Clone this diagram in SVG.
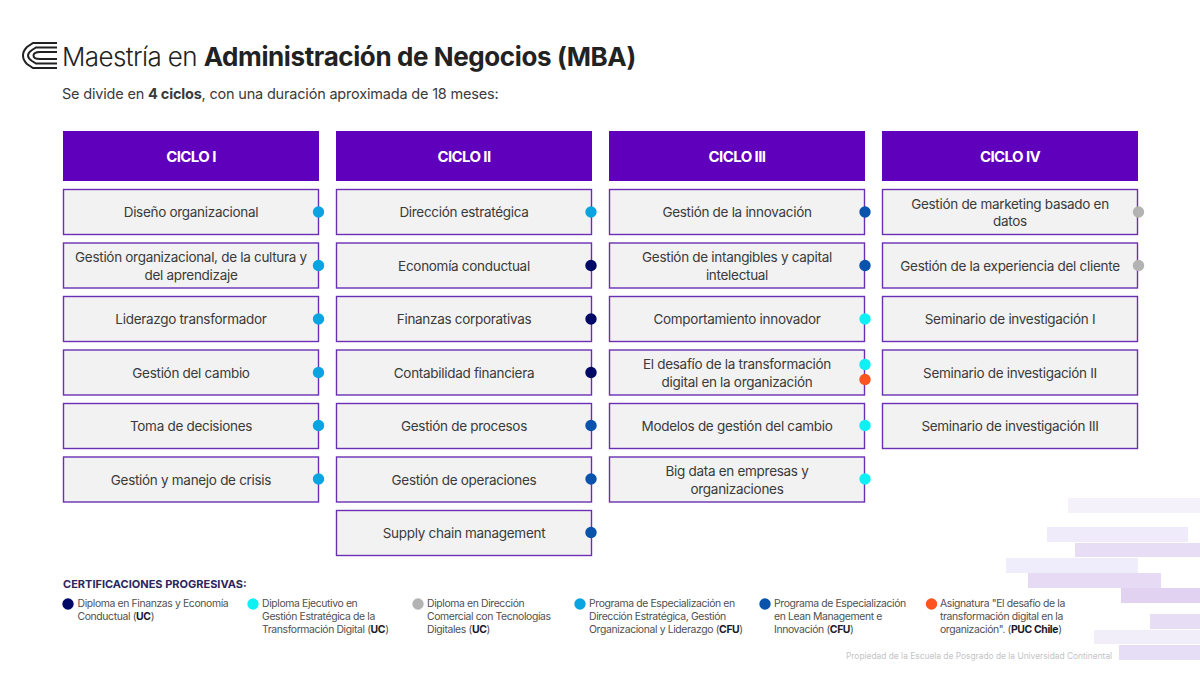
<svg xmlns="http://www.w3.org/2000/svg" width="1200" height="675" viewBox="0 0 1200 675">
<style>
text{font-family:Inter,"Liberation Sans",sans-serif}
.h{fill:#5f00bd}
.hl{fill:#fff;font-size:15px;font-weight:700;text-anchor:middle;letter-spacing:-.6px}
.b{fill:#f2f2f2;stroke:#6a2fb5;stroke-width:1.4}
.t{font-size:13.5px;text-anchor:middle;fill:#3a3a3a;letter-spacing:-.3px}
.lg{font-size:10.4px;fill:#505050;letter-spacing:-.37px}
.s{font-weight:700;fill:#1a1a2a}
.tt{font-size:26px;font-weight:300;fill:#222;letter-spacing:-.6px}
.ttb{font-weight:700;letter-spacing:-.4px}
.sub{font-size:14.5px;fill:#3a3a3a;letter-spacing:-.19px}
.ch{font-size:11px;font-weight:700;fill:#2c2560}
.ft{font-size:8.400px;fill:#c4c4c4}
.d1{fill:#0aa5e0}.d2{fill:#0a53ad}.d3{fill:#000a66}.d4{fill:#0ff0f5}.d5{fill:#b3b3b3}.d6{fill:#fb5420}
</style>
<g id="deco">
<rect x="1068" y="498" width="132" height="15" fill="#f4f1fb"/>
<rect x="1047" y="527" width="141" height="15" fill="#efebfa"/>
<rect x="1075" y="543" width="125" height="14" fill="#e7ddf5"/>
<rect x="1006" y="558" width="132" height="15" fill="#efecfb"/>
<rect x="1028" y="573" width="133" height="15" fill="#e6daf4"/>
<rect x="1121" y="588" width="79" height="15" fill="#e1d2f1"/>
<rect x="1150" y="614" width="50" height="15" fill="#e7ddf5"/>
<rect x="1094" y="630" width="106" height="14" fill="#f1eefa"/>
<rect x="1119" y="645" width="81" height="15" fill="#e6ddf6"/>
</g>
<g id="logo" fill="none" stroke="#222" stroke-width="2">
<path d="M57 43H33L27 47C24 50 23 53 23 55.500C23 58 24 61 27 64L33 68H57"/>
<path d="M57 47.500H36L32 50C29 52 28 54 28 55.500C28 57 29 59 32 61L36 63.500H57"/>
<path d="M57 52H40C36 52 33.500 53.500 33.500 55.500C33.500 57.500 36 59 40 59H57"/>
</g>
<g id="title">
<text class="tt" x="62" y="66">Maestría en <tspan class="ttb">Administración de Negocios (MBA)</tspan></text>
<text class="sub" x="62" y="99">Se divide en <tspan font-weight="700">4 ciclos</tspan>, con una duración aproximada de 18 meses:</text>
</g>
<g id="ciclo-1">
<rect class="h" x="63" y="131" width="256" height="50"/><text class="hl" x="191" y="162">CICLO I</text>
<rect class="b" x="63.500" y="189.500" width="255" height="45"/><text class="t" x="191" y="217">Diseño organizacional</text>
<rect class="b" x="63.500" y="243" width="255" height="45"/><text class="t" x="191" y="262">Gestión organizacional, de la cultura y</text><text class="t" x="191" y="280">del aprendizaje</text>
<rect class="b" x="63.500" y="296.500" width="255" height="45"/><text class="t" x="191" y="324">Liderazgo transformador</text>
<rect class="b" x="63.500" y="350" width="255" height="45"/><text class="t" x="191" y="378">Gestión del cambio</text>
<rect class="b" x="63.500" y="403.500" width="255" height="45"/><text class="t" x="191" y="431">Toma de decisiones</text>
<rect class="b" x="63.500" y="457" width="255" height="45"/><text class="t" x="191" y="485">Gestión y manejo de crisis</text>
<circle class="d1" cx="318.500" cy="212" r="5.700"/><circle class="d1" cx="318.500" cy="265.500" r="5.700"/><circle class="d1" cx="318.500" cy="319" r="5.700"/><circle class="d1" cx="318.500" cy="372.500" r="5.700"/><circle class="d1" cx="318.500" cy="425.500" r="5.700"/><circle class="d1" cx="318.500" cy="479" r="5.700"/>
</g>
<g id="ciclo-2">
<rect class="h" x="336" y="131" width="256" height="50"/><text class="hl" x="464" y="162">CICLO II</text>
<rect class="b" x="336.500" y="189.500" width="255" height="45"/><text class="t" x="464" y="217">Dirección estratégica</text>
<rect class="b" x="336.500" y="243" width="255" height="45"/><text class="t" x="464" y="271">Economía conductual</text>
<rect class="b" x="336.500" y="296.500" width="255" height="45"/><text class="t" x="464" y="324">Finanzas corporativas</text>
<rect class="b" x="336.500" y="350" width="255" height="45"/><text class="t" x="464" y="378">Contabilidad financiera</text>
<rect class="b" x="336.500" y="403.500" width="255" height="45"/><text class="t" x="464" y="431">Gestión de procesos</text>
<rect class="b" x="336.500" y="457" width="255" height="45"/><text class="t" x="464" y="485">Gestión de operaciones</text>
<rect class="b" x="336.500" y="510.500" width="255" height="45"/><text class="t" x="464" y="538">Supply chain management</text>
<circle class="d1" cx="591" cy="212" r="5.700"/><circle class="d3" cx="591" cy="265.500" r="5.700"/><circle class="d3" cx="591" cy="319" r="5.700"/><circle class="d3" cx="591" cy="372.500" r="5.700"/><circle class="d2" cx="591" cy="425.500" r="5.700"/><circle class="d2" cx="591" cy="479" r="5.700"/><circle class="d2" cx="591" cy="532.500" r="5.700"/>
</g>
<g id="ciclo-3">
<rect class="h" x="609" y="131" width="256" height="50"/><text class="hl" x="737" y="162">CICLO III</text>
<rect class="b" x="609.500" y="189.500" width="255" height="45"/><text class="t" x="737" y="217">Gestión de la innovación</text>
<rect class="b" x="609.500" y="243" width="255" height="45"/><text class="t" x="737" y="262">Gestión de intangibles y capital</text><text class="t" x="737" y="280">intelectual</text>
<rect class="b" x="609.500" y="296.500" width="255" height="45"/><text class="t" x="737" y="324">Comportamiento innovador</text>
<rect class="b" x="609.500" y="350" width="255" height="45"/><text class="t" x="737" y="369">El desafío de la transformación</text><text class="t" x="737" y="387">digital en la organización</text>
<rect class="b" x="609.500" y="403.500" width="255" height="45"/><text class="t" x="737" y="431">Modelos de gestión del cambio</text>
<rect class="b" x="609.500" y="457" width="255" height="45"/><text class="t" x="737" y="476">Big data en empresas y</text><text class="t" x="737" y="494">organizaciones</text>
<circle class="d2" cx="865" cy="212" r="5.700"/><circle class="d2" cx="865" cy="265.500" r="5.700"/><circle class="d4" cx="865" cy="319" r="5.700"/><circle class="d4" cx="865" cy="364.500" r="5.700"/><circle class="d6" cx="865" cy="379.500" r="5.700"/><circle class="d4" cx="865" cy="425.500" r="5.700"/><circle class="d4" cx="865" cy="479" r="5.700"/>
</g>
<g id="ciclo-4">
<rect class="h" x="882" y="131" width="256" height="50"/><text class="hl" x="1010" y="162">CICLO IV</text>
<rect class="b" x="882.500" y="189.500" width="255" height="45"/><text class="t" x="1010" y="209">Gestión de marketing basado en</text><text class="t" x="1010" y="226">datos</text>
<rect class="b" x="882.500" y="243" width="255" height="45"/><text class="t" x="1010" y="271">Gestión de la experiencia del cliente</text>
<rect class="b" x="882.500" y="296.500" width="255" height="45"/><text class="t" x="1010" y="324">Seminario de investigación I</text>
<rect class="b" x="882.500" y="350" width="255" height="45"/><text class="t" x="1010" y="378">Seminario de investigación II</text>
<rect class="b" x="882.500" y="403.500" width="255" height="45"/><text class="t" x="1010" y="431">Seminario de investigación III</text>
<circle class="d5" cx="1138.500" cy="212" r="5.700"/><circle class="d5" cx="1138.500" cy="265.500" r="5.700"/>
</g>
<g id="certificaciones">
<text class="ch" x="63" y="588">CERTIFICACIONES PROGRESIVAS:</text>
<g id="cert-1"><circle class="d3" cx="68" cy="604" r="5.700"/><text class="lg" x="77.500" y="607">Diploma en Finanzas y Economía</text><text class="lg" x="77.500" y="620">Conductual (<tspan class="s">UC</tspan>)</text></g>
<g id="cert-2"><circle class="d4" cx="253" cy="604" r="5.700"/><text class="lg" x="262" y="607">Diploma Ejecutivo en</text><text class="lg" x="262" y="620">Gestión Estratégica de la</text><text class="lg" x="262" y="633">Transformación Digital (<tspan class="s">UC</tspan>)</text></g>
<g id="cert-3"><circle class="d5" cx="418" cy="604" r="5.700"/><text class="lg" x="427" y="607">Diploma en Dirección</text><text class="lg" x="427" y="620">Comercial con Tecnologías</text><text class="lg" x="427" y="633">Digitales (<tspan class="s">UC</tspan>)</text></g>
<g id="cert-4"><circle class="d1" cx="580" cy="604" r="5.700"/><text class="lg" x="589" y="607">Programa de Especialización en</text><text class="lg" x="589" y="620">Dirección Estratégica, Gestión</text><text class="lg" x="589" y="633">Organizacional y Liderazgo (<tspan class="s">CFU</tspan>)</text></g>
<g id="cert-5"><circle class="d2" cx="765" cy="604" r="5.700"/><text class="lg" x="774" y="607">Programa de Especialización</text><text class="lg" x="774" y="620">en Lean Management e</text><text class="lg" x="774" y="633">Innovación (<tspan class="s">CFU</tspan>)</text></g>
<g id="cert-6"><circle class="d6" cx="931.500" cy="604" r="5.700"/><text class="lg" x="940" y="607">Asignatura "El desafío de la</text><text class="lg" x="940" y="620">transformación digital en la</text><text class="lg" x="940" y="633">organización". (<tspan class="s">PUC Chile</tspan>)</text></g>
</g>
<text class="ft" x="846" y="659">Propiedad de la Escuela de Posgrado de la Universidad Continental</text>
</svg>
